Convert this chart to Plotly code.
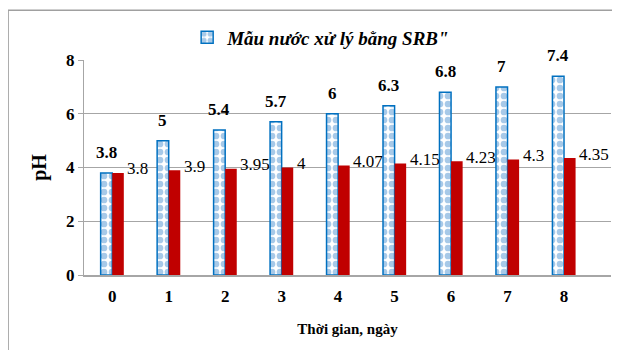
import plotly.graph_objects as go

days = ["0", "1", "2", "3", "4", "5", "6", "7", "8"]
srb_values = [3.8, 5, 5.4, 5.7, 6, 6.3, 6.8, 7, 7.4]
control_values = [3.8, 3.9, 3.95, 4, 4.07, 4.15, 4.23, 4.3, 4.35]
y_ticks = [0, 2, 4, 6, 8]
srb_name = "Mẫu nước xử lý bằng SRB\""
x_title = "Thời gian, ngày"
y_title = "pH"

FONT = "Liberation Serif, Times New Roman, serif"

fig = go.Figure()
fig.add_trace(go.Bar(
    x=days, y=srb_values, name=f"<b><i>{srb_name}</i></b>",
    marker=dict(color="white",
                line=dict(color="#0070C0", width=1.5),
                pattern=dict(shape=".", fgcolor="#4F93D2", bgcolor="white",
                             size=8, solidity=0.55, fillmode="overlay")),
))
fig.add_trace(go.Bar(
    x=days, y=control_values, name="control", showlegend=False,
    marker=dict(color="#C00000", line=dict(width=0)),
))

annotations = []
for d, v in zip(days, srb_values):
    annotations.append(dict(x=d, y=v, text=f"<b>{v:g}</b>", showarrow=False,
                            xshift=-6, yshift=9, yanchor="bottom", xanchor="center",
                            font=dict(family=FONT, size=17, color="black")))
for d, v in zip(days, control_values):
    annotations.append(dict(x=d, y=v, text=f"{v:g}", showarrow=False,
                            xshift=13, yshift=4, yanchor="middle", xanchor="left",
                            font=dict(family=FONT, size=17, color="black")))

fig.update_layout(
    width=620, height=350,
    margin=dict(l=76, r=17, t=51, b=83),
    paper_bgcolor="white", plot_bgcolor="white",
    barmode="group", bargap=0.59, bargroupgap=0,
    font=dict(family=FONT, color="black"),
    showlegend=True,
    legend=dict(orientation="h", x=0.45, xanchor="center", y=1.10, yanchor="middle",
                font=dict(family=FONT, size=19, color="black"),
                bgcolor="rgba(0,0,0,0)"),
    annotations=annotations,
    shapes=[dict(type="rect", xref="paper", yref="paper",
                 x0=-0.144, x1=1.05, y0=-0.4, y1=1.231,
                 line=dict(color="#A0A0A0", width=1.5), fillcolor="rgba(0,0,0,0)",
                 layer="below")],
)
fig.update_xaxes(
    showgrid=False, showline=True, linecolor="#A6A6A6", linewidth=1.5,
    ticks="outside", ticklen=5, tickcolor="rgba(0,0,0,0)",
    tickmode="array", tickvals=days, ticktext=[f"<b>{d}</b>" for d in days],
    tickfont=dict(family=FONT, size=17),
    title=dict(text=f"<b>{x_title}</b>", font=dict(family=FONT, size=15), standoff=18),
)
fig.update_yaxes(
    range=[0, 8], tickmode="array", tickvals=y_ticks, ticktext=[f"<b>{t}</b>" for t in y_ticks],
    showgrid=True, gridcolor="#A6A6A6", gridwidth=1,
    showline=True, linecolor="#A6A6A6", linewidth=1,
    ticks="outside", ticklen=5, tickcolor="#A6A6A6",
    tickfont=dict(family=FONT, size=17),
    title=dict(text=f"<b>{y_title}</b>", font=dict(family=FONT, size=20), standoff=14),
    zeroline=False,
)

fig.write_html("out.html")
